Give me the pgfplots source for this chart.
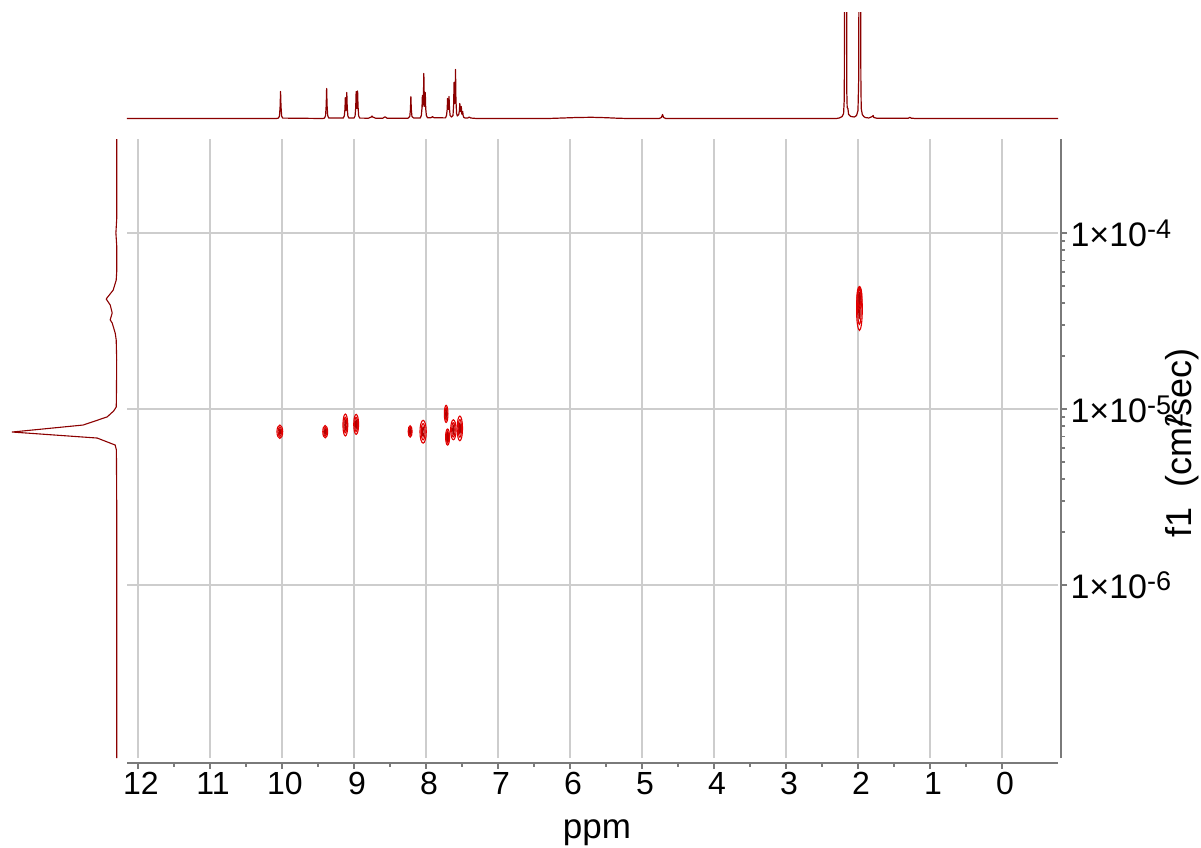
\documentclass[border=0pt]{standalone}
\usepackage{pgfplots}
\pgfplotsset{compat=1.18}
\usepackage{pgfplotstable}
\usepackage{fontspec}
\setmainfont{Liberation Sans}

\definecolor{specred}{HTML}{8B0000}
\definecolor{spotred}{HTML}{E00000}
\definecolor{spotdark}{HTML}{B00000}
\definecolor{gridgray}{HTML}{CDCDCD}
\definecolor{axisgray}{HTML}{7A7A7A}

% cross peaks of the DOSY map: shift (ppm), diffusion coefficient, half widths of the outer contour (pt)
\pgfplotstableread{
ppm   D        rx   ry
10.03 7.43e-6  3.2  7.0
9.40  7.43e-6  2.7  6.5
9.12  8.11e-6  2.7  11.5
8.97  8.18e-6  2.7  10.5
8.22  7.46e-6  2.2  6.0
8.04  7.43e-6  3.5  12.0
7.72  9.38e-6  2.0  9.0
7.70  6.93e-6  2.2  8.5
7.62  7.62e-6  3.0  10.5
7.53  7.76e-6  3.0  13.0
1.98  3.70e-5  3.2  22.5
1.98  4.28e-5  2.8  12.0
}\spots

\newdimen\spotrx
\newdimen\spotry
\def\rx{3}
\def\ry{6}
% nested elliptic contour rings around each cross peak
\pgfdeclareplotmark{dosyspot}{%
  \spotrx=\rx pt\relax
  \spotry=\ry pt\relax
  \pgfsetlinewidth{1.1pt}%
  \pgfsetstrokecolor{spotred}%
  \pgfpathellipse{\pgfpointorigin}{\pgfqpoint{0.9\spotrx}{0pt}}{\pgfqpoint{0pt}{0.95\spotry}}%
  \pgfusepathqstroke
  \pgfpathellipse{\pgfpointorigin}{\pgfqpoint{0.55\spotrx}{0pt}}{\pgfqpoint{0pt}{0.68\spotry}}%
  \pgfusepathqstroke
  \pgfsetstrokecolor{spotdark}%
  \pgfpathellipse{\pgfpointorigin}{\pgfqpoint{0.22\spotrx}{0pt}}{\pgfqpoint{0pt}{0.4\spotry}}%
  \pgfusepathqstroke
}

\newcommand{\decade}[1]{1×10\raisebox{8pt}{\fontsize{27}{30}\selectfont #1}}

\begin{document}
\begin{tikzpicture}
\useasboundingbox (0pt,0pt) rectangle (1201pt,847pt);

% ---------------- 2D DOSY map ----------------
\begin{axis}[
  at={(127pt,89pt)}, anchor=south west,
  scale only axis, width=931pt, height=619pt,
  x dir=reverse, xmin=-0.778, xmax=12.153,
  ymode=log, ymin=1.04e-7, ymax=3.42e-4,
  axis x line*=bottom, axis y line*=right,
  x axis line style={axisgray, line width=1.6pt, yshift=-5pt},
  y axis line style={axisgray, line width=1.6pt, xshift=3pt},
  xtick={0,1,...,12}, minor x tick num=1,
  ytick={1e-6,1e-5,1e-4},
  yticklabels={\decade{-6},\decade{-5},\decade{-4}},
  tick align=outside,
  major tick length=6pt, minor tick length=4pt,
  xtick style={axisgray, line width=1.2pt, yshift=-5pt},
  ytick style={axisgray, line width=1.2pt, xshift=3pt},
  grid=major,
  major grid style={gridgray, line width=1.1pt},
  /pgf/number format/assume math mode=true,
  ticklabel style={black},
  xticklabel style={font=\fontsize{32}{36}\selectfont, yshift=-5pt, xshift=3pt},
  yticklabel style={font=\fontsize{34}{38}\selectfont, xshift=3pt},
]
\addplot[only marks, mark=dosyspot,
  visualization depends on={\thisrow{rx}\as\rx},
  visualization depends on={\thisrow{ry}\as\ry}]
  table[x=ppm, y=D] {\spots};
\end{axis}

% ---------------- 1H projection (top) ----------------
\begin{axis}[
  at={(127pt,726pt)}, anchor=south west,
  scale only axis, width=931pt, height=108pt,
  x dir=reverse, xmin=-0.778, xmax=12.153,
  ymin=-2.5, ymax=105.5,
  hide axis,
]
\addplot[specred, line width=1.2pt, line join=round] coordinates {
(12.153,0) (10.08,0)
(10.05,0.4) (10.035,2.5) (10.026,12) (10.02,27) (10.014,12) (10.005,2.5) (9.99,0.4)
(9.43,0) (9.41,0.4) (9.395,2.8) (9.386,13) (9.38,30) (9.374,13) (9.365,2.8) (9.35,0.4)
(9.15,0.4) (9.135,2.5) (9.126,9) (9.12,21) (9.113,9) (9.11,8) (9.106,11) (9.10,26) (9.094,11) (9.085,2.5) (9.07,0.4)
(9.00,0.4) (8.985,2.5) (8.976,11) (8.97,27) (8.963,11) (8.96,10) (8.956,12) (8.95,27.5) (8.944,12) (8.935,2.5) (8.92,0.4)
(8.80,0.3) (8.76,1.5) (8.75,2.5) (8.74,1.5) (8.70,0.3) (8.60,0.3) (8.575,1.5) (8.565,1.5) (8.54,0.3)
(8.25,0.3) (8.225,2) (8.216,9) (8.21,22) (8.204,9) (8.195,2) (8.17,0.4)
(8.08,0.5) (8.065,3) (8.056,10) (8.05,23) (8.044,12) (8.04,14) (8.036,20) (8.03,45) (8.024,20) (8.02,14) (8.016,12) (8.01,26) (8.004,10) (7.995,3) (7.98,0.8)
(7.93,0.8) (7.91,1.8) (7.89,0.8)
(7.73,0.6) (7.715,3) (7.706,9) (7.70,20) (7.694,10) (7.69,9) (7.686,11) (7.68,22) (7.674,10) (7.665,3) (7.645,1.5)
(7.625,3) (7.616,14) (7.61,36) (7.604,16) (7.60,15) (7.596,20) (7.59,49) (7.584,18) (7.575,5) (7.565,2.5)
(7.545,4) (7.536,8) (7.53,15) (7.523,7) (7.516,7) (7.51,12) (7.503,5) (7.496,4) (7.49,7) (7.484,3) (7.475,1) (7.45,0.4)
(7.42,0.5) (7.40,1.5) (7.38,0.5) (7.30,0)
(6.30,0) (6.10,0.5) (5.90,1.0) (5.70,1.2) (5.50,0.8) (5.35,0.3) (5.20,0)
(4.76,0) (4.73,1) (4.715,4) (4.70,1) (4.67,0)
(2.30,0) (2.26,0.5) (2.22,2) (2.20,5) (2.19,20) (2.185,200) (2.16,200) (2.155,25) (2.15,11) (2.14,10) (2.13,4) (2.10,2) (2.05,1.5)
(2.02,3) (2.00,8) (1.99,40) (1.985,200) (1.965,200) (1.96,40) (1.955,10) (1.94,4) (1.92,2) (1.90,1) (1.85,0.5)
(1.80,2) (1.79,3) (1.78,1) (1.74,0.3) (1.30,0.3) (1.28,1.2) (1.26,0.3) (1.20,0)
(-0.778,0)
};
\end{axis}

% ---------------- diffusion projection (left) ----------------
\begin{axis}[
  at={(5pt,89pt)}, anchor=south west,
  scale only axis, width=113pt, height=619pt,
  x dir=reverse, xmin=-1.3, xmax=111.7,
  ymode=log, ymin=1.04e-7, ymax=3.42e-4,
  hide axis,
]
\addplot[specred, line width=1.1pt, line join=round] coordinates {
(0,3.42e-4) (0,1.2e-4) (0.8,1.0e-4) (0,8.5e-5) (0,6.0e-5) (0.5,5.4e-5)
(3.5,4.74e-5) (10.5,4.22e-5) (6.5,3.90e-5) (4.5,3.51e-5) (6.5,3.21e-5) (4.5,3.08e-5)
(1.5,2.70e-5) (0.5,2.47e-5) (0,1.9e-5) (0.3,1.125e-5) (0.5,1.026e-5) (3,9.75e-6)
(9.5,9.02e-6) (33.5,8.11e-6) (104.5,7.40e-6) (19.5,6.84e-6) (1.5,6.24e-6) (0.3,5.85e-6)
(0,3.04e-6) (0,1.04e-7)
};
\end{axis}

% axis titles
\node[anchor=base, font=\fontsize{35}{42}\selectfont] at (597pt,9pt) {ppm};
\node[rotate=90, anchor=center, font=\fontsize{36}{42}\selectfont] at (1182pt,404pt)
  {f1\ \ (cm\rlap{\textsuperscript{2}}/sec)};
\end{tikzpicture}
\end{document}
